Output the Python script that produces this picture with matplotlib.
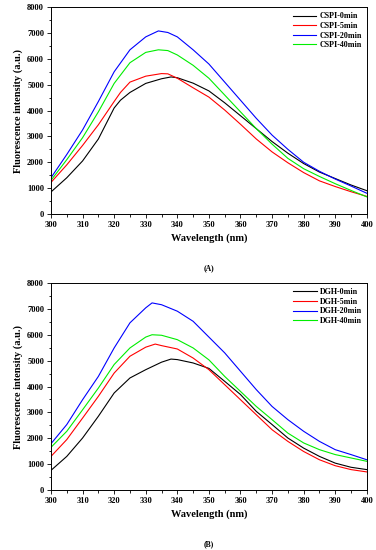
import numpy as np
import matplotlib
matplotlib.use("Agg")
import matplotlib.pyplot as plt
from matplotlib.ticker import MultipleLocator

plt.rcParams['font.family'] = ['Liberation Serif', 'DejaVu Serif']
plt.rcParams['font.weight'] = 'bold'

# Panel A (CSPI)
wl_a0 = [300,305,310,315,320,322,325,330,335,338,340,345,350,355,360,365,370,375,380,385,390,395,400]
cspi_0 = [850,1400,2050,2900,4100,4400,4700,5050,5230,5300,5270,5060,4760,4300,3800,3300,2800,2350,1950,1620,1370,1120,900]
wl_a5 = [300,305,310,315,320,322,325,330,335,337,340,345,350,355,360,365,370,375,380,385,390,395,400]
cspi_5 = [1220,1900,2650,3450,4350,4700,5100,5330,5430,5420,5250,4880,4520,4020,3470,2900,2400,1980,1600,1280,1060,860,680]
wl_a20 = [300,305,310,315,320,325,330,334,337,340,345,350,355,360,365,370,375,380,385,390,395,400]
cspi_20 = [1400,2300,3250,4350,5500,6350,6850,7080,7020,6850,6350,5800,5100,4400,3700,3050,2500,2000,1650,1350,1080,800]
wl_a40 = [300,305,310,315,320,325,330,334,337,340,345,350,355,360,365,370,375,380,385,390,395,400]
cspi_40 = [1300,2100,2950,3950,5050,5850,6250,6350,6320,6150,5750,5250,4600,3950,3300,2700,2150,1750,1450,1170,910,660]

# Panel B (DGH)
wl_b0 = [300,305,310,315,320,325,330,335,338,340,345,350,355,360,365,370,375,380,385,390,395,400]
dgh_0 = [760,1300,2010,2850,3750,4330,4650,4940,5060,5040,4910,4700,4200,3690,3040,2530,2010,1620,1300,1040,880,790]
wl_b5 = [300,305,310,315,320,325,330,333,335,340,345,350,355,360,365,370,375,380,385,390,395,400]
dgh_5 = [1300,1950,2780,3620,4520,5170,5520,5640,5580,5450,5100,4650,4070,3490,2910,2330,1880,1490,1170,940,790,700]
wl_b20 = [300,305,310,315,320,325,330,332,335,340,345,350,355,360,365,370,375,380,385,390,395,400]
dgh_20 = [1790,2530,3490,4390,5490,6460,7040,7230,7160,6910,6520,5910,5300,4590,3880,3230,2720,2270,1880,1560,1370,1170]
wl_b40 = [300,305,310,315,320,325,330,332,335,340,345,350,355,360,365,370,375,380,385,390,395,400]
dgh_40 = [1650,2270,3100,3940,4850,5490,5910,6000,5980,5810,5490,5030,4390,3810,3230,2720,2200,1820,1560,1370,1240,1110]

colors = ['black', '#ff0000', '#0000ff', '#00ee00']
labels_a = ['CSPI-0min', 'CSPI-5min', 'CSPI-20min', 'CSPI-40min']
labels_b = ['DGH-0min', 'DGH-5min', 'DGH-20min', 'DGH-40min']

fig = plt.figure(figsize=(3.76, 5.5), dpi=100)
ax1 = fig.add_axes([0.1356, 0.611, 0.840, 0.376])
ax2 = fig.add_axes([0.1356, 0.109, 0.840, 0.3765])

def draw(ax, series, labels, tag):
    for (x, y), c, lab in zip(series, colors, labels):
        ax.plot(x, y, color=c, lw=0.8, label=lab)
    ax.set_xlim(300, 400)
    ax.set_ylim(0, 8000)
    ax.xaxis.set_major_locator(MultipleLocator(10))
    ax.xaxis.set_minor_locator(MultipleLocator(5))
    ax.yaxis.set_major_locator(MultipleLocator(1000))
    ax.yaxis.set_minor_locator(MultipleLocator(500))
    ax.tick_params(which='major', length=3, width=0.6, labelsize=6, pad=2)
    ax.tick_params(which='minor', length=1.8, width=0.6)
    for lab in ax.get_xticklabels() + ax.get_yticklabels():
        lab.set_fontweight('bold')
    for s in ax.spines.values():
        s.set_linewidth(0.7)
    ax.set_xlabel('Wavelength (nm)', fontsize=7.5, fontweight='bold', labelpad=3)
    ax.set_ylabel('Fluorescence intensity (a.u.)', fontsize=7.5, fontweight='bold', labelpad=3)
    leg = ax.legend(loc='upper right', fontsize=5.8, frameon=False, handlelength=2.9,
                    handletextpad=0.35, labelspacing=0.2, borderaxespad=0.25)
    for t in leg.get_texts():
        t.set_fontweight('bold')
    ax.text(0.5, -0.26, tag, transform=ax.transAxes, ha='center', va='center',
            fontsize=5.5, fontweight='bold')

draw(ax1, [(wl_a0, cspi_0), (wl_a5, cspi_5), (wl_a20, cspi_20), (wl_a40, cspi_40)], labels_a, '(A)')
draw(ax2, [(wl_b0, dgh_0), (wl_b5, dgh_5), (wl_b20, dgh_20), (wl_b40, dgh_40)], labels_b, '(B)')

fig.savefig('out.png', dpi=100)
